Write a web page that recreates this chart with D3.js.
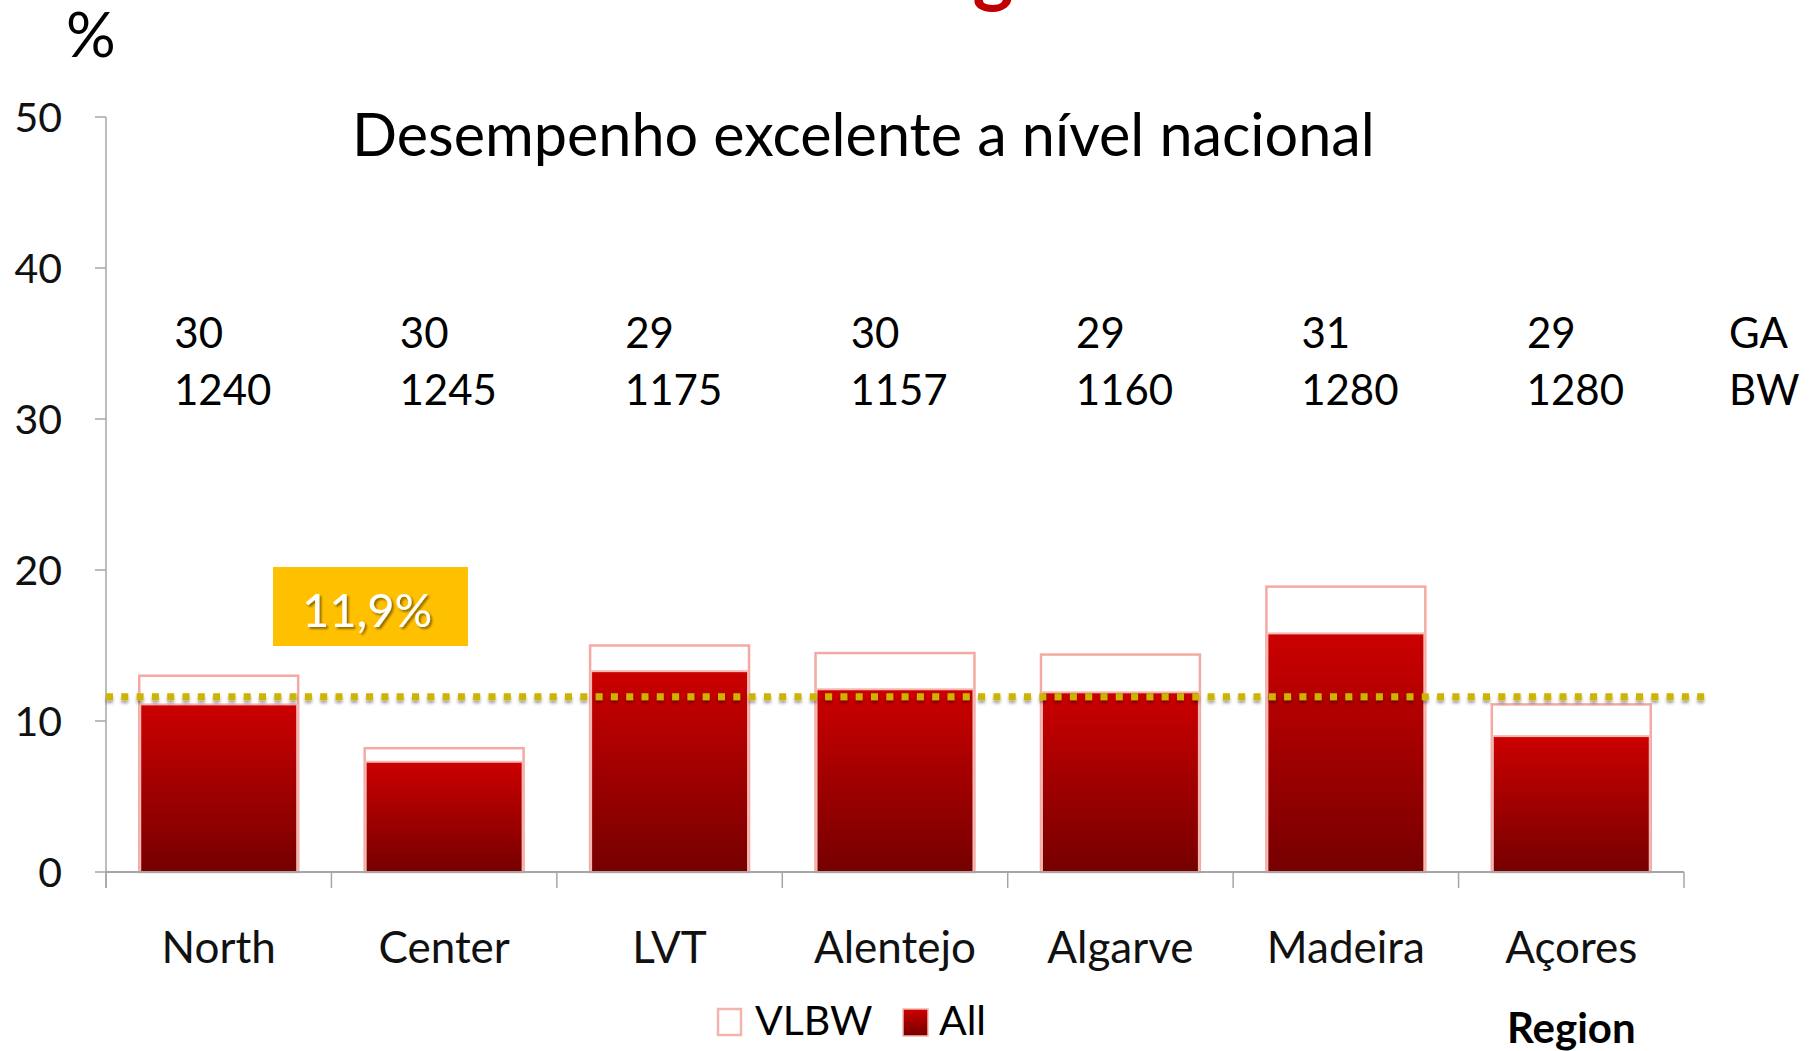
<!DOCTYPE html>
<html>
<head>
<meta charset="utf-8">
<script src="https://cdn.jsdelivr.net/npm/d3@7"></script>
<style>
  body { margin: 0; background: #fff; }
  text { font-family: Lato, "Open Sans", sans-serif; }
</style>
</head>
<body>
<div id="chart"></div>
<script>
"use strict";

// données
const regions = ["North", "Center", "LVT", "Alentejo", "Algarve", "Madeira", "Açores"];
const vlbwValues = [13.0, 8.2, 15.0, 14.5, 14.4, 18.9, 11.1];
const allValues = [11.1, 7.3, 13.3, 12.1, 11.9, 15.8, 9.0];
const gaValues = [30, 30, 29, 30, 29, 31, 29];
const bwValues = [1240, 1245, 1175, 1157, 1160, 1280, 1280];
const yTicks = [0, 10, 20, 30, 40, 50];
const nationalLine = 11.6;
const nationalLabel = "11,9%";

const width = 1810;
const height = 1051;

const svg = d3.select("#chart")
  .append("svg")
  .attr("width", width)
  .attr("height", height);

const defs = svg.append("defs");

const grad = defs.append("linearGradient")
  .attr("id", "barGrad")
  .attr("x1", 0).attr("y1", 0).attr("x2", 0).attr("y2", 1);
grad.append("stop").attr("offset", "0%").attr("stop-color", "#cc0000");
grad.append("stop").attr("offset", "100%").attr("stop-color", "#760000");

const x = d3.scaleBand()
  .domain(regions)
  .range([106, 1684])
  .paddingInner(0.295)
  .paddingOuter(0.1475);

const y = d3.scaleLinear().domain([0, 50]).range([872, 117]);

// ombre de la ligne pointillée (userSpaceOnUse car la ligne a une hauteur nulle)
const shadow = defs.append("filter").attr("id", "dotShadow")
  .attr("filterUnits", "userSpaceOnUse")
  .attr("x", 0).attr("y", y(nationalLine) - 30)
  .attr("width", width).attr("height", 60);
shadow.append("feDropShadow")
  .attr("dx", 0).attr("dy", 3).attr("stdDeviation", 1.8)
  .attr("flood-color", "#000").attr("flood-opacity", 0.35);

const textShadow = defs.append("filter").attr("id", "textShadow");
textShadow.append("feDropShadow")
  .attr("dx", 2).attr("dy", 2).attr("stdDeviation", 1.2)
  .attr("flood-color", "#000").attr("flood-opacity", 0.45);

const rows = regions.map((r, i) => ({
  region: r, vlbw: vlbwValues[i], all: allValues[i], ga: gaValues[i], bw: bwValues[i]
}));

// titre rouge coupé en haut
svg.append("text")
  .attr("x", 993).attr("y", -3)
  .attr("text-anchor", "middle")
  .style("font-size", "78px")
  .style("font-weight", "bold")
  .style("fill", "#c00000")
  .text("g");

svg.append("text")
  .attr("x", 66).attr("y", 57)
  .style("font-size", "62px")
  .text("%");

// sous-titre
const subtitle = svg.append("text")
  .attr("x", 352).attr("y", 156)
  .style("font-size", "60px")
  .text("Desempenho excelente a nível nacional");
const stw = subtitle.node().getComputedTextLength();
subtitle.style("font-size", (60 * 1023 / stw) + "px");

// axe Y
const axisColor = "#a6a6a6";
svg.append("line")
  .attr("x1", 106).attr("x2", 106)
  .attr("y1", y(50)).attr("y2", y(0) + 16)
  .attr("stroke", axisColor).attr("stroke-width", 1.5);

svg.append("g")
  .selectAll("line")
  .data(yTicks)
  .join("line")
  .attr("x1", 95).attr("x2", 106)
  .attr("y1", (d) => y(d)).attr("y2", (d) => y(d))
  .attr("stroke", axisColor).attr("stroke-width", 1.5);

svg.append("g")
  .selectAll("text")
  .data(yTicks)
  .join("text")
  .attr("x", 62)
  .attr("y", (d) => y(d))
  .attr("dy", "0.36em")
  .attr("text-anchor", "end")
  .style("font-size", "41px")
  .style("fill", "#111")
  .text((d) => d);

// barres VLBW (contour)
svg.append("g")
  .selectAll("rect")
  .data(rows)
  .join("rect")
  .attr("x", (d) => x(d.region))
  .attr("width", x.bandwidth())
  .attr("y", (d) => y(d.vlbw))
  .attr("height", (d) => y(0) - y(d.vlbw))
  .attr("fill", "#fff")
  .attr("stroke", "#f4aaa4")
  .attr("stroke-width", 2.5);

// barres All
svg.append("g")
  .selectAll("rect")
  .data(rows)
  .join("rect")
  .attr("x", (d) => x(d.region) + 1)
  .attr("width", x.bandwidth() - 2)
  .attr("y", (d) => y(d.all))
  .attr("height", (d) => y(0) - y(d.all))
  .attr("fill", "url(#barGrad)")
  .attr("stroke", "#f5b8b2")
  .attr("stroke-width", 2);

// axe X
svg.append("line")
  .attr("x1", 106).attr("x2", 1684)
  .attr("y1", y(0)).attr("y2", y(0))
  .attr("stroke", axisColor).attr("stroke-width", 2);

const bounds = regions.map((r) => x(r) - (x.step() * x.paddingInner()) / 2);
bounds[0] = 106;
bounds.push(1684);
svg.append("g")
  .selectAll("line")
  .data(bounds)
  .join("line")
  .attr("x1", (d) => d).attr("x2", (d) => d)
  .attr("y1", y(0)).attr("y2", y(0) + 16)
  .attr("stroke", axisColor).attr("stroke-width", 1.5);

svg.append("g")
  .selectAll("text")
  .data(regions)
  .join("text")
  .attr("x", (d) => x(d) + x.bandwidth() / 2)
  .attr("y", 963)
  .attr("text-anchor", "middle")
  .style("font-size", "44px")
  .style("fill", "#111")
  .text((d) => d);

// ligne nationale pointillée
svg.append("line")
  .attr("x1", 106).attr("x2", 1710)
  .attr("y1", y(nationalLine)).attr("y2", y(nationalLine))
  .attr("stroke", "#cdb400")
  .attr("stroke-width", 7)
  .attr("stroke-dasharray", "7,8.3")
  .attr("filter", "url(#dotShadow)");

// étiquette 11,9%
svg.append("rect")
  .attr("x", 273).attr("width", 195)
  .attr("y", 567).attr("height", 79)
  .attr("fill", "#ffc000");
svg.append("text")
  .attr("x", 367).attr("y", 627)
  .attr("text-anchor", "middle")
  .style("font-size", "47px")
  .style("fill", "#fff")
  .attr("filter", "url(#textShadow)")
  .text(nationalLabel);

// GA / BW
const cx = (r) => x(r) + x.bandwidth() / 2;
svg.append("g")
  .selectAll("text")
  .data(rows)
  .join("text")
  .attr("x", (d) => cx(d.region) - 20)
  .attr("y", 348)
  .attr("text-anchor", "middle")
  .style("font-size", "42px")
  .text((d) => d.ga);

svg.append("g")
  .selectAll("text")
  .data(rows)
  .join("text")
  .attr("x", (d) => cx(d.region) + 4)
  .attr("y", 405)
  .attr("text-anchor", "middle")
  .style("font-size", "42px")
  .text((d) => d.bw);

svg.append("text").attr("x", 1729).attr("y", 348).style("font-size", "42px").text("GA");
svg.append("text").attr("x", 1729).attr("y", 405).style("font-size", "42px").text("BW");

// légende
const legend = svg.append("g");
legend.append("rect")
  .attr("x", 718).attr("y", 1009).attr("width", 23).attr("height", 26)
  .attr("fill", "#fff").attr("stroke", "#f4b4ae").attr("stroke-width", 2.5);
legend.append("text").attr("x", 755).attr("y", 1035).style("font-size", "41px").text("VLBW");
legend.append("rect")
  .attr("x", 903).attr("y", 1009).attr("width", 25).attr("height", 27)
  .attr("fill", "url(#barGrad)").attr("stroke", "#f5b8b2").attr("stroke-width", 1.5);
legend.append("text").attr("x", 939).attr("y", 1035).style("font-size", "41px").text("All");

svg.append("text")
  .attr("x", 1507).attr("y", 1043)
  .style("font-size", "42px")
  .style("font-weight", "bold")
  .text("Region");
</script>
</body>
</html>
